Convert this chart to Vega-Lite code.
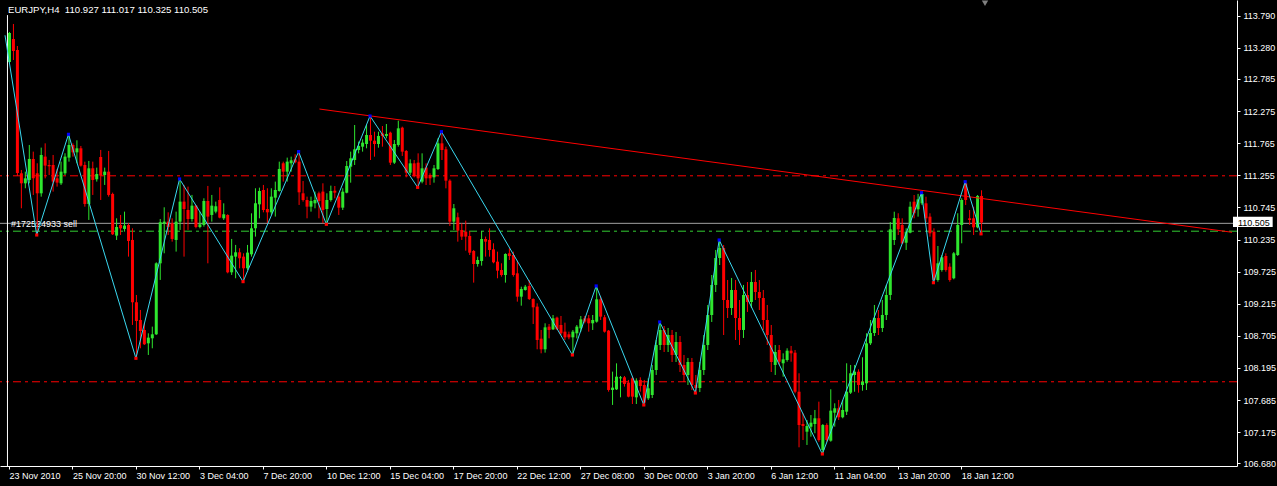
{
  "$schema": "https://vega.github.io/schema/vega-lite/v6.json",
  "width": 1237,
  "height": 466,
  "autosize": {"type": "none"},
  "padding": {"left": 0, "top": 0, "right": 40, "bottom": 20},
  "background": "#000000",
  "config": {
    "view": {"stroke": null},
    "axis": {"grid": false, "domainColor": "#ffffff", "tickColor": "#ffffff", "labelColor": "#ffffff", "labelFont": "Liberation Sans", "labelFontSize": 9, "tickSize": 3, "title": null, "labelOverlap": false, "labelBound": false},
    "axisY": {"labelOverlap": false, "labelBound": false, "labelFlush": false, "tickCount": 40}
  },
  "title": {"text": "EURJPY,H4\u00a0\u00a0110.927 111.017 110.325 110.505", "anchor": "start", "frame": "group", "offset": -23, "dx": 8, "font": "Liberation Sans", "fontSize": 9.6, "fontWeight": "normal", "color": "#ffffff", "baseline": "alphabetic"},
  "datasets": {
    "levels": [
      {"p": 111.255, "k": "r"},
      {"p": 107.983, "k": "r"},
      {"p": 110.375, "k": "g"},
      {"p": 110.5, "k": "s"}
    ],
    "vline": [{"i": -0.375, "p1": 113.8, "p2": 106.637}],
    "trend": [{"i": 78.25, "p": 112.308}, {"i": 308.25, "p": 110.35}],
    "lbl": [{"i": 0.5, "p": 110.5, "t": "#172524933 sell"}],
    "box": [{"i": 308.5, "i2": 318.5, "p": 110.434, "p2": 110.597, "tx": 309.75, "pt": 110.505, "t": "110.505"}],
    "shift": [{"i": 246, "p": 113.99}],
    "zz": [{"i":-1,"p":113.48,"t":"S"},{"i":7,"p":110.307,"t":"L"},{"i":15,"p":111.906,"t":"H"},{"i":32,"p":108.348,"t":"L"},{"i":43,"p":111.197,"t":"H"},{"i":59,"p":109.566,"t":"L"},{"i":73,"p":111.631,"t":"H"},{"i":80,"p":110.477,"t":"L"},{"i":91,"p":112.197,"t":"H"},{"i":103,"p":111.064,"t":"L"},{"i":109,"p":111.948,"t":"H"},{"i":142,"p":108.401,"t":"L"},{"i":148,"p":109.497,"t":"H"},{"i":160,"p":107.607,"t":"L"},{"i":164,"p":108.925,"t":"H"},{"i":173,"p":107.797,"t":"L"},{"i":179,"p":110.227,"t":"H"},{"i":205,"p":106.828,"t":"L"},{"i":230,"p":110.979,"t":"H"},{"i":233,"p":109.549,"t":"L"},{"i":241,"p":111.153,"t":"H"},{"i":245,"p":110.325,"t":"L"}],
    "bars": [
{"i":0,"o":113.055,"h":113.532,"l":113.023,"c":113.516},
{"i":1,"o":113.420,"h":113.659,"l":113.087,"c":113.230},
{"i":2,"o":113.246,"h":113.309,"l":111.244,"c":111.292},
{"i":3,"o":111.287,"h":111.340,"l":110.731,"c":111.128},
{"i":4,"o":111.128,"h":111.313,"l":111.049,"c":111.207},
{"i":5,"o":111.181,"h":111.737,"l":111.128,"c":111.515},
{"i":6,"o":111.515,"h":111.631,"l":110.943,"c":111.207},
{"i":7,"o":111.287,"h":111.446,"l":110.307,"c":110.969},
{"i":8,"o":110.969,"h":111.695,"l":110.916,"c":111.578},
{"i":9,"o":111.552,"h":111.763,"l":111.207,"c":111.409},
{"i":10,"o":111.419,"h":111.499,"l":111.260,"c":111.398},
{"i":11,"o":111.419,"h":111.578,"l":110.996,"c":111.155},
{"i":12,"o":111.207,"h":111.356,"l":111.075,"c":111.139},
{"i":13,"o":111.128,"h":111.472,"l":111.102,"c":111.313},
{"i":14,"o":111.287,"h":111.605,"l":111.260,"c":111.552},
{"i":15,"o":111.536,"h":111.906,"l":111.472,"c":111.737},
{"i":16,"o":111.737,"h":111.763,"l":111.552,"c":111.620},
{"i":17,"o":111.620,"h":111.811,"l":111.446,"c":111.684},
{"i":18,"o":111.684,"h":111.721,"l":111.393,"c":111.409},
{"i":19,"o":111.419,"h":111.472,"l":110.757,"c":110.800},
{"i":20,"o":110.800,"h":111.483,"l":110.546,"c":111.366},
{"i":21,"o":111.366,"h":111.472,"l":110.943,"c":111.181},
{"i":22,"o":111.192,"h":111.377,"l":111.155,"c":111.276},
{"i":23,"o":111.546,"h":111.658,"l":110.863,"c":111.250},
{"i":24,"o":111.260,"h":111.377,"l":111.102,"c":111.313},
{"i":25,"o":111.313,"h":111.642,"l":110.916,"c":110.943},
{"i":26,"o":110.959,"h":110.980,"l":110.307,"c":110.318},
{"i":27,"o":110.297,"h":110.572,"l":110.228,"c":110.434},
{"i":28,"o":110.466,"h":110.625,"l":110.307,"c":110.413},
{"i":29,"o":110.403,"h":110.678,"l":110.360,"c":110.456},
{"i":30,"o":110.466,"h":110.493,"l":109.963,"c":110.212},
{"i":31,"o":110.228,"h":110.413,"l":108.878,"c":109.238},
{"i":32,"o":109.238,"h":109.354,"l":108.348,"c":108.941},
{"i":33,"o":108.957,"h":109.116,"l":108.507,"c":108.782},
{"i":34,"o":108.798,"h":108.904,"l":108.560,"c":108.571},
{"i":35,"o":108.586,"h":108.745,"l":108.401,"c":108.676},
{"i":36,"o":108.666,"h":108.851,"l":108.507,"c":108.729},
{"i":37,"o":108.729,"h":109.873,"l":108.719,"c":109.857},
{"i":38,"o":109.857,"h":110.561,"l":109.593,"c":110.509},
{"i":39,"o":110.487,"h":110.747,"l":110.016,"c":110.519},
{"i":40,"o":110.519,"h":110.667,"l":110.307,"c":110.434},
{"i":41,"o":110.493,"h":110.572,"l":110.201,"c":110.244},
{"i":42,"o":110.228,"h":110.678,"l":110.043,"c":110.519},
{"i":43,"o":110.519,"h":111.197,"l":110.387,"c":110.837},
{"i":44,"o":110.837,"h":111.102,"l":109.963,"c":110.720},
{"i":45,"o":110.704,"h":111.075,"l":110.387,"c":110.561},
{"i":46,"o":110.561,"h":110.943,"l":110.519,"c":110.773},
{"i":47,"o":110.773,"h":110.784,"l":110.413,"c":110.434},
{"i":48,"o":110.434,"h":110.678,"l":110.413,"c":110.477},
{"i":49,"o":110.466,"h":110.890,"l":110.440,"c":110.847},
{"i":50,"o":110.847,"h":111.086,"l":109.857,"c":110.599},
{"i":51,"o":110.625,"h":110.943,"l":110.519,"c":110.773},
{"i":52,"o":110.678,"h":110.837,"l":110.651,"c":110.763},
{"i":53,"o":110.863,"h":111.064,"l":110.572,"c":110.583},
{"i":54,"o":110.572,"h":110.810,"l":110.546,"c":110.636},
{"i":55,"o":110.625,"h":110.636,"l":109.698,"c":109.714},
{"i":56,"o":109.714,"h":110.244,"l":109.672,"c":109.979},
{"i":57,"o":109.963,"h":110.149,"l":109.619,"c":110.032},
{"i":58,"o":110.032,"h":110.096,"l":109.778,"c":109.937},
{"i":59,"o":109.963,"h":110.016,"l":109.566,"c":109.778},
{"i":60,"o":109.778,"h":110.149,"l":109.751,"c":110.027},
{"i":61,"o":110.000,"h":110.651,"l":109.963,"c":110.413},
{"i":62,"o":110.413,"h":111.049,"l":110.281,"c":110.810},
{"i":63,"o":110.794,"h":111.059,"l":110.572,"c":111.006},
{"i":64,"o":111.022,"h":111.102,"l":110.667,"c":110.704},
{"i":65,"o":110.720,"h":111.049,"l":110.493,"c":110.667},
{"i":66,"o":110.667,"h":111.049,"l":110.625,"c":110.916},
{"i":67,"o":110.900,"h":111.155,"l":110.599,"c":111.022},
{"i":68,"o":111.006,"h":111.472,"l":110.996,"c":111.356},
{"i":69,"o":111.446,"h":111.472,"l":111.155,"c":111.313},
{"i":70,"o":111.313,"h":111.536,"l":111.155,"c":111.472},
{"i":71,"o":111.446,"h":111.552,"l":111.313,"c":111.493},
{"i":72,"o":111.509,"h":111.589,"l":111.446,"c":111.462},
{"i":73,"o":111.472,"h":111.631,"l":110.784,"c":110.985},
{"i":74,"o":110.969,"h":111.165,"l":110.837,"c":110.863},
{"i":75,"o":110.863,"h":110.916,"l":110.572,"c":110.757},
{"i":76,"o":110.757,"h":110.916,"l":110.678,"c":110.847},
{"i":77,"o":110.810,"h":110.996,"l":110.731,"c":110.863},
{"i":78,"o":110.969,"h":110.996,"l":110.572,"c":110.847},
{"i":79,"o":110.996,"h":111.128,"l":110.493,"c":110.704},
{"i":80,"o":110.720,"h":110.969,"l":110.477,"c":110.863},
{"i":81,"o":110.863,"h":111.091,"l":110.837,"c":111.006},
{"i":82,"o":111.011,"h":111.085,"l":110.889,"c":110.979},
{"i":83,"o":110.916,"h":110.969,"l":110.625,"c":110.741},
{"i":84,"o":110.741,"h":111.048,"l":110.704,"c":110.995},
{"i":85,"o":110.979,"h":111.482,"l":110.969,"c":111.403},
{"i":86,"o":111.392,"h":111.631,"l":111.138,"c":111.525},
{"i":87,"o":111.498,"h":112.054,"l":111.419,"c":111.668},
{"i":88,"o":111.657,"h":111.790,"l":111.604,"c":111.721},
{"i":89,"o":111.710,"h":111.827,"l":111.631,"c":111.774},
{"i":90,"o":111.752,"h":112.054,"l":111.684,"c":111.895},
{"i":91,"o":111.895,"h":112.197,"l":111.498,"c":111.805},
{"i":92,"o":111.805,"h":111.948,"l":111.551,"c":111.752},
{"i":93,"o":111.752,"h":111.948,"l":111.694,"c":111.880},
{"i":94,"o":111.922,"h":112.038,"l":111.710,"c":111.880},
{"i":95,"o":111.880,"h":112.070,"l":111.842,"c":111.911},
{"i":96,"o":111.932,"h":111.948,"l":111.419,"c":111.456},
{"i":97,"o":111.456,"h":111.816,"l":111.435,"c":111.752},
{"i":98,"o":111.737,"h":112.123,"l":111.710,"c":112.001},
{"i":99,"o":112.012,"h":112.028,"l":111.562,"c":111.631},
{"i":100,"o":111.641,"h":111.657,"l":111.223,"c":111.297},
{"i":101,"o":111.297,"h":111.509,"l":111.260,"c":111.445},
{"i":102,"o":111.445,"h":111.498,"l":111.223,"c":111.244},
{"i":103,"o":111.456,"h":111.604,"l":111.064,"c":111.207},
{"i":104,"o":111.154,"h":111.604,"l":111.128,"c":111.366},
{"i":105,"o":111.377,"h":111.445,"l":111.101,"c":111.207},
{"i":106,"o":111.260,"h":111.287,"l":111.101,"c":111.207},
{"i":107,"o":111.223,"h":111.419,"l":111.138,"c":111.366},
{"i":108,"o":111.355,"h":111.843,"l":111.339,"c":111.763},
{"i":109,"o":111.763,"h":111.948,"l":111.498,"c":111.657},
{"i":110,"o":111.668,"h":111.710,"l":111.048,"c":111.170},
{"i":111,"o":111.170,"h":111.191,"l":110.450,"c":110.519},
{"i":112,"o":110.519,"h":110.799,"l":110.386,"c":110.731},
{"i":113,"o":110.588,"h":110.662,"l":110.201,"c":110.376},
{"i":114,"o":110.386,"h":110.492,"l":110.228,"c":110.281},
{"i":115,"o":110.360,"h":110.535,"l":110.058,"c":110.281},
{"i":116,"o":110.291,"h":110.371,"l":109.989,"c":110.026},
{"i":117,"o":110.053,"h":110.069,"l":109.550,"c":109.846},
{"i":118,"o":109.846,"h":109.963,"l":109.804,"c":109.910},
{"i":119,"o":109.894,"h":110.371,"l":109.820,"c":110.243},
{"i":120,"o":110.243,"h":110.281,"l":109.963,"c":110.201},
{"i":121,"o":110.228,"h":110.413,"l":109.963,"c":110.069},
{"i":122,"o":110.079,"h":110.175,"l":109.857,"c":109.873},
{"i":123,"o":109.883,"h":110.042,"l":109.619,"c":109.740},
{"i":124,"o":109.751,"h":109.857,"l":109.645,"c":109.671},
{"i":125,"o":109.671,"h":110.016,"l":109.550,"c":110.005},
{"i":126,"o":110.016,"h":110.095,"l":109.910,"c":109.973},
{"i":127,"o":109.989,"h":110.042,"l":109.645,"c":109.671},
{"i":128,"o":109.698,"h":109.899,"l":109.248,"c":109.327},
{"i":129,"o":109.327,"h":109.486,"l":109.184,"c":109.449},
{"i":130,"o":109.433,"h":109.513,"l":109.423,"c":109.486},
{"i":131,"o":109.497,"h":109.592,"l":109.274,"c":109.290},
{"i":132,"o":109.290,"h":109.301,"l":108.893,"c":109.158},
{"i":133,"o":109.169,"h":109.221,"l":108.491,"c":108.639},
{"i":134,"o":108.660,"h":108.798,"l":108.427,"c":108.491},
{"i":135,"o":108.491,"h":108.904,"l":108.438,"c":108.840},
{"i":136,"o":108.851,"h":108.893,"l":108.665,"c":108.798},
{"i":137,"o":108.808,"h":109.036,"l":108.798,"c":108.983},
{"i":138,"o":108.994,"h":109.010,"l":108.798,"c":108.808},
{"i":139,"o":108.877,"h":109.020,"l":108.718,"c":108.745},
{"i":140,"o":108.771,"h":108.914,"l":108.639,"c":108.681},
{"i":141,"o":108.729,"h":108.771,"l":108.650,"c":108.681},
{"i":142,"o":108.681,"h":108.798,"l":108.401,"c":108.771},
{"i":143,"o":108.745,"h":108.877,"l":108.665,"c":108.851},
{"i":144,"o":108.824,"h":109.020,"l":108.771,"c":108.967},
{"i":145,"o":108.983,"h":109.020,"l":108.904,"c":108.930},
{"i":146,"o":108.983,"h":109.036,"l":108.771,"c":108.904},
{"i":147,"o":108.904,"h":109.036,"l":108.798,"c":108.957},
{"i":148,"o":108.930,"h":109.497,"l":108.914,"c":109.285},
{"i":149,"o":109.285,"h":109.327,"l":108.957,"c":109.010},
{"i":150,"o":109.000,"h":109.036,"l":108.756,"c":108.771},
{"i":151,"o":108.787,"h":108.798,"l":107.818,"c":107.845},
{"i":152,"o":107.845,"h":108.136,"l":107.607,"c":107.882},
{"i":153,"o":107.855,"h":108.268,"l":107.845,"c":108.056},
{"i":154,"o":108.030,"h":108.067,"l":107.728,"c":108.046},
{"i":155,"o":108.046,"h":108.067,"l":107.898,"c":107.940},
{"i":156,"o":107.961,"h":108.004,"l":107.728,"c":107.739},
{"i":157,"o":108.030,"h":108.057,"l":107.622,"c":107.739},
{"i":158,"o":107.728,"h":108.030,"l":107.622,"c":107.993},
{"i":159,"o":108.004,"h":108.046,"l":107.818,"c":107.908},
{"i":160,"o":107.924,"h":108.004,"l":107.607,"c":107.643},
{"i":161,"o":107.712,"h":108.030,"l":107.686,"c":107.871},
{"i":162,"o":107.765,"h":108.242,"l":107.717,"c":108.162},
{"i":163,"o":108.162,"h":108.639,"l":108.083,"c":108.559},
{"i":164,"o":108.559,"h":108.925,"l":108.480,"c":108.798},
{"i":165,"o":108.798,"h":108.861,"l":108.448,"c":108.559},
{"i":166,"o":108.559,"h":108.830,"l":108.448,"c":108.718},
{"i":167,"o":108.718,"h":108.798,"l":108.289,"c":108.401},
{"i":168,"o":108.401,"h":108.766,"l":108.289,"c":108.607},
{"i":169,"o":108.607,"h":108.702,"l":108.130,"c":108.242},
{"i":170,"o":108.242,"h":108.401,"l":107.971,"c":108.083},
{"i":171,"o":108.083,"h":108.353,"l":107.924,"c":108.289},
{"i":172,"o":108.289,"h":108.353,"l":107.844,"c":107.924},
{"i":173,"o":107.924,"h":108.083,"l":107.797,"c":107.876},
{"i":174,"o":107.876,"h":108.289,"l":107.812,"c":108.162},
{"i":175,"o":108.162,"h":108.718,"l":108.083,"c":108.559},
{"i":176,"o":108.559,"h":109.195,"l":108.480,"c":109.036},
{"i":177,"o":109.036,"h":109.671,"l":108.925,"c":109.513},
{"i":178,"o":109.513,"h":110.069,"l":109.401,"c":109.941},
{"i":179,"o":109.941,"h":110.227,"l":109.830,"c":110.100},
{"i":180,"o":110.100,"h":110.148,"l":108.718,"c":109.274},
{"i":181,"o":109.274,"h":109.592,"l":108.988,"c":109.147},
{"i":182,"o":109.147,"h":109.624,"l":109.036,"c":109.433},
{"i":183,"o":109.433,"h":109.592,"l":108.639,"c":108.988},
{"i":184,"o":108.988,"h":109.274,"l":108.559,"c":108.798},
{"i":185,"o":108.798,"h":109.513,"l":108.671,"c":109.354},
{"i":186,"o":109.354,"h":109.560,"l":109.084,"c":109.242},
{"i":187,"o":109.242,"h":109.719,"l":109.147,"c":109.560},
{"i":188,"o":109.560,"h":109.751,"l":109.274,"c":109.401},
{"i":189,"o":109.401,"h":109.592,"l":109.115,"c":109.306},
{"i":190,"o":109.306,"h":109.433,"l":108.798,"c":108.956},
{"i":191,"o":108.956,"h":109.195,"l":108.559,"c":108.718},
{"i":192,"o":108.718,"h":108.877,"l":108.130,"c":108.289},
{"i":193,"o":108.242,"h":108.559,"l":108.083,"c":108.448},
{"i":194,"o":108.480,"h":108.559,"l":108.242,"c":108.294},
{"i":195,"o":108.269,"h":108.427,"l":108.056,"c":108.332},
{"i":196,"o":108.321,"h":108.507,"l":108.294,"c":108.469},
{"i":197,"o":108.469,"h":108.544,"l":108.294,"c":108.427},
{"i":198,"o":108.437,"h":108.480,"l":107.792,"c":107.817},
{"i":199,"o":107.817,"h":108.110,"l":106.934,"c":107.288},
{"i":200,"o":107.304,"h":107.474,"l":107.050,"c":107.272},
{"i":201,"o":107.182,"h":107.368,"l":106.971,"c":107.272},
{"i":202,"o":107.261,"h":107.447,"l":107.103,"c":107.325},
{"i":203,"o":107.304,"h":107.527,"l":107.157,"c":107.395},
{"i":204,"o":107.395,"h":107.659,"l":107.023,"c":107.050},
{"i":205,"o":106.891,"h":107.304,"l":106.828,"c":107.288},
{"i":206,"o":107.288,"h":107.315,"l":107.023,"c":107.050},
{"i":207,"o":107.039,"h":107.856,"l":107.023,"c":107.516},
{"i":208,"o":107.484,"h":107.633,"l":107.262,"c":107.554},
{"i":209,"o":107.554,"h":107.686,"l":107.368,"c":107.411},
{"i":210,"o":107.411,"h":107.686,"l":107.395,"c":107.527},
{"i":211,"o":107.500,"h":108.269,"l":107.447,"c":107.817},
{"i":212,"o":107.802,"h":108.242,"l":107.781,"c":108.110},
{"i":213,"o":108.083,"h":108.242,"l":107.817,"c":108.135},
{"i":214,"o":108.135,"h":108.173,"l":107.802,"c":107.924},
{"i":215,"o":107.924,"h":108.364,"l":107.833,"c":107.976},
{"i":216,"o":107.951,"h":108.745,"l":107.844,"c":108.586},
{"i":217,"o":108.586,"h":108.956,"l":108.559,"c":108.750},
{"i":218,"o":108.750,"h":109.195,"l":108.702,"c":108.988},
{"i":219,"o":108.988,"h":109.115,"l":108.718,"c":108.829},
{"i":220,"o":108.829,"h":109.274,"l":108.766,"c":109.036},
{"i":221,"o":109.036,"h":109.513,"l":108.956,"c":109.354},
{"i":222,"o":109.354,"h":110.513,"l":109.274,"c":110.397},
{"i":223,"o":110.227,"h":110.677,"l":110.148,"c":110.577},
{"i":224,"o":110.572,"h":110.652,"l":110.307,"c":110.397},
{"i":225,"o":110.466,"h":110.572,"l":110.164,"c":110.175},
{"i":226,"o":110.184,"h":110.413,"l":110.069,"c":110.359},
{"i":227,"o":110.343,"h":110.836,"l":110.334,"c":110.756},
{"i":228,"o":110.836,"h":110.942,"l":110.572,"c":110.652},
{"i":229,"o":110.715,"h":110.960,"l":110.598,"c":110.874},
{"i":230,"o":110.810,"h":110.979,"l":110.783,"c":110.958},
{"i":231,"o":110.810,"h":110.915,"l":110.513,"c":110.572},
{"i":232,"o":110.598,"h":110.652,"l":110.280,"c":110.334},
{"i":233,"o":110.359,"h":110.413,"l":109.549,"c":109.592},
{"i":234,"o":109.592,"h":110.132,"l":109.565,"c":109.857},
{"i":235,"o":109.751,"h":109.989,"l":109.724,"c":109.953},
{"i":236,"o":109.973,"h":110.016,"l":109.724,"c":109.751},
{"i":237,"o":109.803,"h":109.857,"l":109.565,"c":109.592},
{"i":238,"o":109.619,"h":110.037,"l":109.603,"c":110.016},
{"i":239,"o":109.989,"h":110.652,"l":109.973,"c":110.466},
{"i":240,"o":110.466,"h":110.890,"l":110.175,"c":110.863},
{"i":241,"o":111.128,"h":111.153,"l":110.783,"c":110.863},
{"i":242,"o":110.572,"h":110.704,"l":110.466,"c":110.545},
{"i":243,"o":110.572,"h":110.756,"l":110.307,"c":110.429},
{"i":244,"o":110.429,"h":110.942,"l":110.413,"c":110.927},
{"i":245,"o":110.927,"h":111.017,"l":110.325,"c":110.505}
    ]
  },
  "layer": [
    {
      "data": {"name": "levels"},
      "mark": {"type": "rule", "strokeWidth": 1, "yOffset": 0.5},
      "encoding": {
        "y": {"field": "p", "type": "quantitative", "title": null,
          "scale": {"domain": [106.637, 114.04], "nice": false, "zero": false},
          "axis": {"orient": "right", "values": [113.79, 113.28, 112.785, 112.275, 111.765, 111.255, 110.745, 110.235, 109.725, 109.215, 108.705, 108.195, 107.685, 107.175, 106.68], "tickCount": 40, "format": ".3f", "labelOverlap": false, "labelPadding": 3, "labelFlush": false, "labelBound": false}},
        "color": {"field": "k", "type": "nominal", "legend": null, "scale": {"domain": ["r", "g", "s"], "range": ["#ff0000", "#32cd32", "#a0a0a0"]}},
        "strokeDash": {"field": "k", "type": "nominal", "legend": null, "scale": {"domain": ["r", "g", "s"], "range": [[8, 4, 3, 4], [8, 4, 3, 4], [1, 0]]}}
      }
    },
    {
      "data": {"name": "vline"},
      "mark": {"type": "rule", "strokeWidth": 1, "color": "#ffffff"},
      "encoding": {
        "x": {"field": "i", "type": "quantitative", "title": null},
        "y": {"field": "p1", "type": "quantitative", "title": null},
        "y2": {"field": "p2"}
      }
    },
    {
      "data": {"name": "lbl"},
      "mark": {"type": "text", "align": "left", "baseline": "middle", "font": "Liberation Sans", "fontSize": 9, "color": "#ffffff", "dy": 1},
      "encoding": {
        "x": {"field": "i", "type": "quantitative", "title": null},
        "y": {"field": "p", "type": "quantitative", "title": null},
        "text": {"field": "t"}
      }
    },
    {
      "data": {"name": "bars"},
      "mark": {"type": "rule", "strokeWidth": 1, "xOffset": 0.5},
      "encoding": {
        "x": {"field": "i", "type": "quantitative", "title": null,
          "scale": {"domain": [-1, 308.25], "nice": false, "zero": false},
          "axis": {"values": [0, 16, 32, 48, 64, 80, 96, 112, 128, 144, 160, 176, 192, 208, 224, 240], "tickCount": 40, "labelExpr": "['23 Nov 2010','25 Nov 20:00','30 Nov 12:00','3 Dec 04:00','7 Dec 20:00','10 Dec 12:00','15 Dec 04:00','17 Dec 20:00','22 Dec 12:00','27 Dec 08:00','30 Dec 00:00','3 Jan 20:00','6 Jan 12:00','11 Jan 04:00','13 Jan 20:00','18 Jan 12:00'][datum.value/16]", "labelAlign": "left", "labelBaseline": "top", "labelPadding": 2, "labelFlush": false, "labelOverlap": false}},
        "y": {"field": "l", "type": "quantitative", "title": null},
        "y2": {"field": "h"},
        "color": {"condition": {"test": "datum.c >= datum.o", "value": "#2ee62e"}, "value": "#ff0000"}
      }
    },
    {
      "data": {"name": "bars"},
      "mark": {"type": "bar", "size": 3, "xOffset": 0.5},
      "encoding": {
        "x": {"field": "i", "type": "quantitative", "title": null},
        "y": {"field": "o", "type": "quantitative", "title": null},
        "y2": {"field": "c"},
        "color": {"condition": {"test": "datum.c >= datum.o", "value": "#2ee62e"}, "value": "#ff0000"}
      }
    },
    {
      "data": {"name": "trend"},
      "mark": {"type": "line", "color": "#ff0000", "strokeWidth": 1},
      "encoding": {
        "x": {"field": "i", "type": "quantitative", "title": null},
        "y": {"field": "p", "type": "quantitative", "title": null}
      }
    },
    {
      "data": {"name": "zz"},
      "mark": {"type": "line", "color": "#3ad8f0", "strokeWidth": 1},
      "encoding": {
        "x": {"field": "i", "type": "quantitative", "title": null},
        "y": {"field": "p", "type": "quantitative", "title": null}
      }
    },
    {
      "data": {"name": "zz"},
      "transform": [{"filter": "datum.t !== 'S'"}],
      "mark": {"type": "square", "size": 10, "filled": true, "opacity": 1},
      "encoding": {
        "x": {"field": "i", "type": "quantitative", "title": null},
        "y": {"field": "p", "type": "quantitative", "title": null},
        "color": {"condition": {"test": "datum.t === 'H'", "value": "#0000ff"}, "value": "#ff0000"}
      }
    },
    {
      "data": {"name": "shift"},
      "mark": {"type": "point", "shape": "triangle-down", "size": 40, "filled": true, "color": "#808080", "opacity": 1},
      "encoding": {
        "x": {"field": "i", "type": "quantitative", "title": null},
        "y": {"field": "p", "type": "quantitative", "title": null}
      }
    },
    {
      "data": {"name": "box"},
      "mark": {"type": "rect", "color": "#ffffff"},
      "encoding": {
        "x": {"field": "i", "type": "quantitative", "title": null},
        "x2": {"field": "i2"},
        "y": {"field": "p", "type": "quantitative", "title": null},
        "y2": {"field": "p2"}
      }
    },
    {
      "data": {"name": "box"},
      "mark": {"type": "text", "align": "left", "baseline": "middle", "font": "Liberation Sans", "fontSize": 9, "color": "#000000"},
      "encoding": {
        "x": {"field": "tx", "type": "quantitative", "title": null},
        "y": {"field": "pt", "type": "quantitative", "title": null},
        "text": {"field": "t"}
      }
    }
  ]
}
